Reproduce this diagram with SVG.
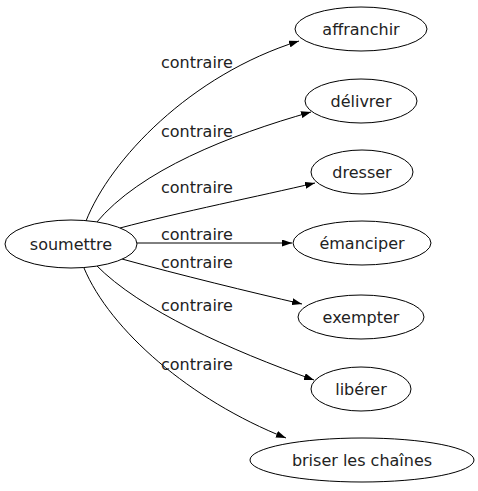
<svg xmlns="http://www.w3.org/2000/svg" width="478" height="491" viewBox="0 0 478 491">
<style>
.n ellipse{fill:#fff;stroke:#000;stroke-width:1}
text{font-family:"DejaVu Sans",sans-serif;font-size:16px;fill:#222}
.n text{text-anchor:middle}
.e path{fill:none;stroke:#000;stroke-width:1}
</style>
<defs>
<marker id="ah" viewBox="0 0 10 7" refX="10" refY="3.5" markerWidth="10" markerHeight="7" markerUnits="userSpaceOnUse" orient="auto">
<path d="M0,0 L10,3.5 L0,7 Z" fill="#000"/>
</marker>
</defs>
<rect width="478" height="491" fill="#fff"/>
<g id="edges" class="e">
<path d="M86,221 C110,160 190,75 299,41" marker-end="url(#ah)"/>
<path d="M96,223 C140,170 230,135 311,112" marker-end="url(#ah)"/>
<path d="M120,228 C180,212 260,196 315,183" marker-end="url(#ah)"/>
<path d="M137,243 L292,243" marker-end="url(#ah)"/>
<path d="M122,259 C180,275 250,292 302,304" marker-end="url(#ah)"/>
<path d="M96,265 C140,310 230,350 314,380" marker-end="url(#ah)"/>
<path d="M84,268 C110,330 190,400 286,438" marker-end="url(#ah)"/>
<text x="161" y="68">contraire</text>
<text x="161" y="137">contraire</text>
<text x="161" y="193">contraire</text>
<text x="161" y="240">contraire</text>
<text x="161" y="268">contraire</text>
<text x="161" y="311">contraire</text>
<text x="161" y="370">contraire</text>
</g>
<g id="soumettre" class="n"><ellipse cx="71" cy="244" rx="66" ry="24"/><text x="71" y="250">soumettre</text></g>
<g id="affranchir" class="n"><ellipse cx="361" cy="29" rx="66" ry="22"/><text x="361" y="35">affranchir</text></g>
<g id="delivrer" class="n"><ellipse cx="361" cy="101" rx="56" ry="22"/><text x="361" y="107">délivrer</text></g>
<g id="dresser" class="n"><ellipse cx="362" cy="172" rx="51" ry="22"/><text x="362" y="178">dresser</text></g>
<g id="emanciper" class="n"><ellipse cx="362" cy="243" rx="69" ry="22"/><text x="362" y="249">émanciper</text></g>
<g id="exempter" class="n"><ellipse cx="361" cy="317" rx="63" ry="22"/><text x="361" y="323">exempter</text></g>
<g id="liberer" class="n"><ellipse cx="361" cy="389" rx="50" ry="22"/><text x="361" y="395">libérer</text></g>
<g id="briser" class="n"><ellipse cx="362" cy="460" rx="112" ry="22"/><text x="362" y="466">briser les chaînes</text></g>
</svg>
